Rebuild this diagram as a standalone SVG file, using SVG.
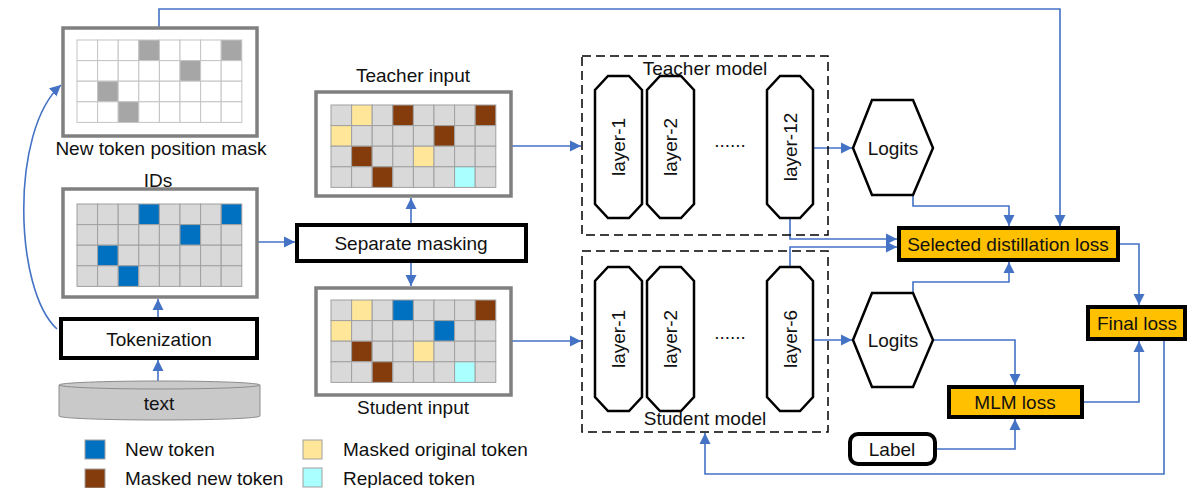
<svg xmlns="http://www.w3.org/2000/svg" width="1188" height="488" viewBox="0 0 1188 488">
<style>
text{font-family:"Liberation Sans",Arial,sans-serif;font-size:19px;fill:#111;}
.c{text-anchor:middle;dominant-baseline:central;}
.frame{fill:#fff;stroke:#808080;stroke-width:3.5;}
.g{fill:#d9d9d9;stroke:#a0a0a0;stroke-width:1;}
.w{fill:#fff;stroke:#c4c4c4;stroke-width:1;}
.m{fill:#a6a6a6;stroke:#c4c4c4;stroke-width:1;}
.b{fill:#0070c0;stroke:#a0a0a0;stroke-width:1;}
.br{fill:#843c0c;stroke:#a0a0a0;stroke-width:1;}
.y{fill:#ffe699;stroke:#a0a0a0;stroke-width:1;}
.cy{fill:#aaffff;stroke:#a0a0a0;stroke-width:1;}
.thick{fill:#fff;stroke:#000;stroke-width:4;}
.orange{fill:#ffc000;stroke:#000;stroke-width:4;}
.layer{fill:#fff;stroke:#000;stroke-width:2.5;}
.dash{fill:none;stroke:#000;stroke-width:1.5;stroke-dasharray:9,5;}
.conn{fill:none;stroke:#4472c4;stroke-width:1.6;}
.arr{marker-end:url(#ah);}
</style>
<defs>
<marker id="ah" markerUnits="userSpaceOnUse" markerWidth="12" markerHeight="12" refX="11" refY="6" orient="auto">
<path d="M0,0.5 L11,6 L0,11.5 Z" fill="#4472c4"/>
</marker>
</defs>

<g id="connectors">
<path class="conn arr" d="M159,28 V9 H1060 V226"/>
<path class="conn arr" d="M57,329 C14,290 10,130 61,85"/>
<path class="conn arr" d="M158,381 V360"/>
<path class="conn arr" d="M158,317 V299"/>
<path class="conn arr" d="M258,242 H295"/>
<path class="conn arr" d="M411,224 V198"/>
<path class="conn arr" d="M411,262 V286"/>
<path class="conn arr" d="M511,146 H581"/>
<path class="conn arr" d="M512,341 H581"/>
<path class="conn arr" d="M813,148 H852"/>
<path class="conn arr" d="M813,340 H852"/>
<path class="conn arr" d="M913,195 V206 H1009 V226"/>
<path class="conn arr" d="M790,218 V239 H897"/>
<path class="conn arr" d="M790,267 V247 H897"/>
<path class="conn arr" d="M913,293 V282 H1009 V262"/>
<path class="conn arr" d="M933,340 H1015 V385"/>
<path class="conn arr" d="M936,449 H1015 V419"/>
<path class="conn arr" d="M1083,402 H1139 V341"/>
<path class="conn arr" d="M1119,244 H1139 V305"/>
<path class="conn arr" d="M1164,340 V474 H705 V433"/>
</g>

<g id="mask">
<rect class="frame" x="63" y="28" width="194" height="108"/>
<g transform="translate(77,40)">
<rect class="w" x="0" y="0" width="20.6" height="20.6"/><rect class="w" x="20.6" y="0" width="20.6" height="20.6"/><rect class="w" x="41.2" y="0" width="20.6" height="20.6"/><rect class="m" x="61.8" y="0" width="20.6" height="20.6"/><rect class="w" x="82.4" y="0" width="20.6" height="20.6"/><rect class="w" x="103" y="0" width="20.6" height="20.6"/><rect class="w" x="123.6" y="0" width="20.6" height="20.6"/><rect class="m" x="144.2" y="0" width="20.6" height="20.6"/>
<rect class="w" x="0" y="20.6" width="20.6" height="20.6"/><rect class="w" x="20.6" y="20.6" width="20.6" height="20.6"/><rect class="w" x="41.2" y="20.6" width="20.6" height="20.6"/><rect class="w" x="61.8" y="20.6" width="20.6" height="20.6"/><rect class="w" x="82.4" y="20.6" width="20.6" height="20.6"/><rect class="m" x="103" y="20.6" width="20.6" height="20.6"/><rect class="w" x="123.6" y="20.6" width="20.6" height="20.6"/><rect class="w" x="144.2" y="20.6" width="20.6" height="20.6"/>
<rect class="w" x="0" y="41.2" width="20.6" height="20.6"/><rect class="m" x="20.6" y="41.2" width="20.6" height="20.6"/><rect class="w" x="41.2" y="41.2" width="20.6" height="20.6"/><rect class="w" x="61.8" y="41.2" width="20.6" height="20.6"/><rect class="w" x="82.4" y="41.2" width="20.6" height="20.6"/><rect class="w" x="103" y="41.2" width="20.6" height="20.6"/><rect class="w" x="123.6" y="41.2" width="20.6" height="20.6"/><rect class="w" x="144.2" y="41.2" width="20.6" height="20.6"/>
<rect class="w" x="0" y="61.8" width="20.6" height="20.6"/><rect class="w" x="20.6" y="61.8" width="20.6" height="20.6"/><rect class="m" x="41.2" y="61.8" width="20.6" height="20.6"/><rect class="w" x="61.8" y="61.8" width="20.6" height="20.6"/><rect class="w" x="82.4" y="61.8" width="20.6" height="20.6"/><rect class="w" x="103" y="61.8" width="20.6" height="20.6"/><rect class="w" x="123.6" y="61.8" width="20.6" height="20.6"/><rect class="w" x="144.2" y="61.8" width="20.6" height="20.6"/>
</g>
<text class="c" x="161" y="148">New token position mask</text>
</g>

<g id="ids">
<text class="c" x="158" y="180">IDs</text>
<rect class="frame" x="63" y="189" width="194" height="108"/>
<g transform="translate(77,204)">
<rect class="g" x="0" y="0" width="20.6" height="20.6"/><rect class="g" x="20.6" y="0" width="20.6" height="20.6"/><rect class="g" x="41.2" y="0" width="20.6" height="20.6"/><rect class="b" x="61.8" y="0" width="20.6" height="20.6"/><rect class="g" x="82.4" y="0" width="20.6" height="20.6"/><rect class="g" x="103" y="0" width="20.6" height="20.6"/><rect class="g" x="123.6" y="0" width="20.6" height="20.6"/><rect class="b" x="144.2" y="0" width="20.6" height="20.6"/>
<rect class="g" x="0" y="20.6" width="20.6" height="20.6"/><rect class="g" x="20.6" y="20.6" width="20.6" height="20.6"/><rect class="g" x="41.2" y="20.6" width="20.6" height="20.6"/><rect class="g" x="61.8" y="20.6" width="20.6" height="20.6"/><rect class="g" x="82.4" y="20.6" width="20.6" height="20.6"/><rect class="b" x="103" y="20.6" width="20.6" height="20.6"/><rect class="g" x="123.6" y="20.6" width="20.6" height="20.6"/><rect class="g" x="144.2" y="20.6" width="20.6" height="20.6"/>
<rect class="g" x="0" y="41.2" width="20.6" height="20.6"/><rect class="b" x="20.6" y="41.2" width="20.6" height="20.6"/><rect class="g" x="41.2" y="41.2" width="20.6" height="20.6"/><rect class="g" x="61.8" y="41.2" width="20.6" height="20.6"/><rect class="g" x="82.4" y="41.2" width="20.6" height="20.6"/><rect class="g" x="103" y="41.2" width="20.6" height="20.6"/><rect class="g" x="123.6" y="41.2" width="20.6" height="20.6"/><rect class="g" x="144.2" y="41.2" width="20.6" height="20.6"/>
<rect class="g" x="0" y="61.8" width="20.6" height="20.6"/><rect class="g" x="20.6" y="61.8" width="20.6" height="20.6"/><rect class="b" x="41.2" y="61.8" width="20.6" height="20.6"/><rect class="g" x="61.8" y="61.8" width="20.6" height="20.6"/><rect class="g" x="82.4" y="61.8" width="20.6" height="20.6"/><rect class="g" x="103" y="61.8" width="20.6" height="20.6"/><rect class="g" x="123.6" y="61.8" width="20.6" height="20.6"/><rect class="g" x="144.2" y="61.8" width="20.6" height="20.6"/>
</g>
</g>

<g id="tokenization">
<rect class="thick" x="61" y="319" width="196" height="39"/>
<text class="c" x="159" y="339">Tokenization</text>
</g>

<g id="text-db">
<path d="M59,385 V416 A100.5,4 0 0 0 260,416 V385" fill="#c9c9c9" stroke="#8c8c8c" stroke-width="1"/>
<ellipse cx="159.5" cy="385" rx="100.5" ry="4" fill="#c9c9c9" stroke="#8c8c8c" stroke-width="1"/>
<text class="c" x="159" y="403">text</text>
</g>

<g id="separate-masking">
<rect class="thick" x="297" y="225" width="229" height="36"/>
<text class="c" x="411" y="243">Separate masking</text>
</g>

<g id="teacher-input">
<text class="c" x="413" y="75">Teacher input</text>
<rect class="frame" x="316" y="92" width="195" height="104"/>
<g transform="translate(331,105)">
<rect class="g" x="0" y="0" width="20.6" height="20.6"/><rect class="y" x="20.6" y="0" width="20.6" height="20.6"/><rect class="g" x="41.2" y="0" width="20.6" height="20.6"/><rect class="br" x="61.8" y="0" width="20.6" height="20.6"/><rect class="g" x="82.4" y="0" width="20.6" height="20.6"/><rect class="g" x="103" y="0" width="20.6" height="20.6"/><rect class="g" x="123.6" y="0" width="20.6" height="20.6"/><rect class="br" x="144.2" y="0" width="20.6" height="20.6"/>
<rect class="y" x="0" y="20.6" width="20.6" height="20.6"/><rect class="g" x="20.6" y="20.6" width="20.6" height="20.6"/><rect class="g" x="41.2" y="20.6" width="20.6" height="20.6"/><rect class="g" x="61.8" y="20.6" width="20.6" height="20.6"/><rect class="g" x="82.4" y="20.6" width="20.6" height="20.6"/><rect class="br" x="103" y="20.6" width="20.6" height="20.6"/><rect class="g" x="123.6" y="20.6" width="20.6" height="20.6"/><rect class="g" x="144.2" y="20.6" width="20.6" height="20.6"/>
<rect class="g" x="0" y="41.2" width="20.6" height="20.6"/><rect class="br" x="20.6" y="41.2" width="20.6" height="20.6"/><rect class="g" x="41.2" y="41.2" width="20.6" height="20.6"/><rect class="g" x="61.8" y="41.2" width="20.6" height="20.6"/><rect class="y" x="82.4" y="41.2" width="20.6" height="20.6"/><rect class="g" x="103" y="41.2" width="20.6" height="20.6"/><rect class="g" x="123.6" y="41.2" width="20.6" height="20.6"/><rect class="g" x="144.2" y="41.2" width="20.6" height="20.6"/>
<rect class="g" x="0" y="61.8" width="20.6" height="20.6"/><rect class="g" x="20.6" y="61.8" width="20.6" height="20.6"/><rect class="br" x="41.2" y="61.8" width="20.6" height="20.6"/><rect class="g" x="61.8" y="61.8" width="20.6" height="20.6"/><rect class="g" x="82.4" y="61.8" width="20.6" height="20.6"/><rect class="g" x="103" y="61.8" width="20.6" height="20.6"/><rect class="cy" x="123.6" y="61.8" width="20.6" height="20.6"/><rect class="g" x="144.2" y="61.8" width="20.6" height="20.6"/>
</g>
</g>

<g id="student-input">
<rect class="frame" x="316" y="288" width="195" height="107"/>
<g transform="translate(331,300)">
<rect class="g" x="0" y="0" width="20.6" height="20.6"/><rect class="y" x="20.6" y="0" width="20.6" height="20.6"/><rect class="g" x="41.2" y="0" width="20.6" height="20.6"/><rect class="b" x="61.8" y="0" width="20.6" height="20.6"/><rect class="g" x="82.4" y="0" width="20.6" height="20.6"/><rect class="g" x="103" y="0" width="20.6" height="20.6"/><rect class="g" x="123.6" y="0" width="20.6" height="20.6"/><rect class="br" x="144.2" y="0" width="20.6" height="20.6"/>
<rect class="y" x="0" y="20.6" width="20.6" height="20.6"/><rect class="g" x="20.6" y="20.6" width="20.6" height="20.6"/><rect class="g" x="41.2" y="20.6" width="20.6" height="20.6"/><rect class="g" x="61.8" y="20.6" width="20.6" height="20.6"/><rect class="g" x="82.4" y="20.6" width="20.6" height="20.6"/><rect class="b" x="103" y="20.6" width="20.6" height="20.6"/><rect class="g" x="123.6" y="20.6" width="20.6" height="20.6"/><rect class="g" x="144.2" y="20.6" width="20.6" height="20.6"/>
<rect class="g" x="0" y="41.2" width="20.6" height="20.6"/><rect class="br" x="20.6" y="41.2" width="20.6" height="20.6"/><rect class="g" x="41.2" y="41.2" width="20.6" height="20.6"/><rect class="g" x="61.8" y="41.2" width="20.6" height="20.6"/><rect class="y" x="82.4" y="41.2" width="20.6" height="20.6"/><rect class="g" x="103" y="41.2" width="20.6" height="20.6"/><rect class="g" x="123.6" y="41.2" width="20.6" height="20.6"/><rect class="g" x="144.2" y="41.2" width="20.6" height="20.6"/>
<rect class="g" x="0" y="61.8" width="20.6" height="20.6"/><rect class="g" x="20.6" y="61.8" width="20.6" height="20.6"/><rect class="br" x="41.2" y="61.8" width="20.6" height="20.6"/><rect class="g" x="61.8" y="61.8" width="20.6" height="20.6"/><rect class="g" x="82.4" y="61.8" width="20.6" height="20.6"/><rect class="g" x="103" y="61.8" width="20.6" height="20.6"/><rect class="cy" x="123.6" y="61.8" width="20.6" height="20.6"/><rect class="g" x="144.2" y="61.8" width="20.6" height="20.6"/>
</g>
<text class="c" x="413" y="407">Student input</text>
</g>

<g id="teacher-model">
<rect class="dash" x="582" y="56" width="246" height="179"/>
<text class="c" x="705" y="68">Teacher model</text>
<path class="layer" d="M608,76 H629 L642,90 V204 L629,218 H608 L595,204 V90 Z"/>
<text class="c" transform="translate(618.5,147) rotate(-90)">layer-1</text>
<path class="layer" d="M660,76 H681 L694,90 V204 L681,218 H660 L647,204 V90 Z"/>
<text class="c" transform="translate(670.5,147) rotate(-90)">layer-2</text>
<text class="c" x="730" y="140">......</text>
<path class="layer" d="M780,76 H800 L813,90 V204 L800,218 H780 L767,204 V90 Z"/>
<text class="c" transform="translate(790,147) rotate(-90)">layer-12</text>
</g>

<g id="student-model">
<rect class="dash" x="582" y="251" width="246" height="181"/>
<text class="c" x="705" y="418">Student model</text>
<path class="layer" d="M608,267 H629 L642,281 V397 L629,411 H608 L595,397 V281 Z"/>
<text class="c" transform="translate(618.5,339) rotate(-90)">layer-1</text>
<path class="layer" d="M660,267 H681 L694,281 V397 L681,411 H660 L647,397 V281 Z"/>
<text class="c" transform="translate(670.5,339) rotate(-90)">layer-2</text>
<text class="c" x="730" y="332">......</text>
<path class="layer" d="M780,267 H800 L813,281 V397 L800,411 H780 L767,397 V281 Z"/>
<text class="c" transform="translate(790,339) rotate(-90)">layer-6</text>
</g>

<g id="teacher-logits">
<polygon class="layer" points="853,148 872,100 913,100 933,148 913,195 872,195"/>
<text class="c" x="893" y="148">Logits</text>
</g>

<g id="student-logits">
<polygon class="layer" points="853,340 872,293 913,293 933,340 913,387 872,387"/>
<text class="c" x="893" y="340">Logits</text>
</g>

<g id="selected-distillation-loss">
<rect class="orange" x="899" y="228" width="219" height="32"/>
<text class="c" x="1008" y="244">Selected distillation loss</text>
</g>

<g id="mlm-loss">
<rect class="orange" x="949" y="387" width="133" height="30"/>
<text class="c" x="1015" y="402">MLM loss</text>
</g>

<g id="final-loss">
<rect class="orange" x="1088" y="307" width="97" height="32"/>
<text class="c" x="1137" y="323">Final loss</text>
</g>

<g id="label">
<rect class="thick" x="850" y="434" width="85" height="30" rx="8"/>
<text class="c" x="892" y="449">Label</text>
</g>

<g id="legend">
<rect class="b" x="85" y="440" width="20" height="19"/>
<text x="125" y="456">New token</text>
<rect class="br" x="85" y="469" width="20" height="19"/>
<text x="125" y="485">Masked new token</text>
<rect class="y" x="303" y="440" width="19" height="19"/>
<text x="343" y="456">Masked original token</text>
<rect class="cy" x="303" y="468" width="19" height="19"/>
<text x="343" y="485">Replaced token</text>
</g>
</svg>
